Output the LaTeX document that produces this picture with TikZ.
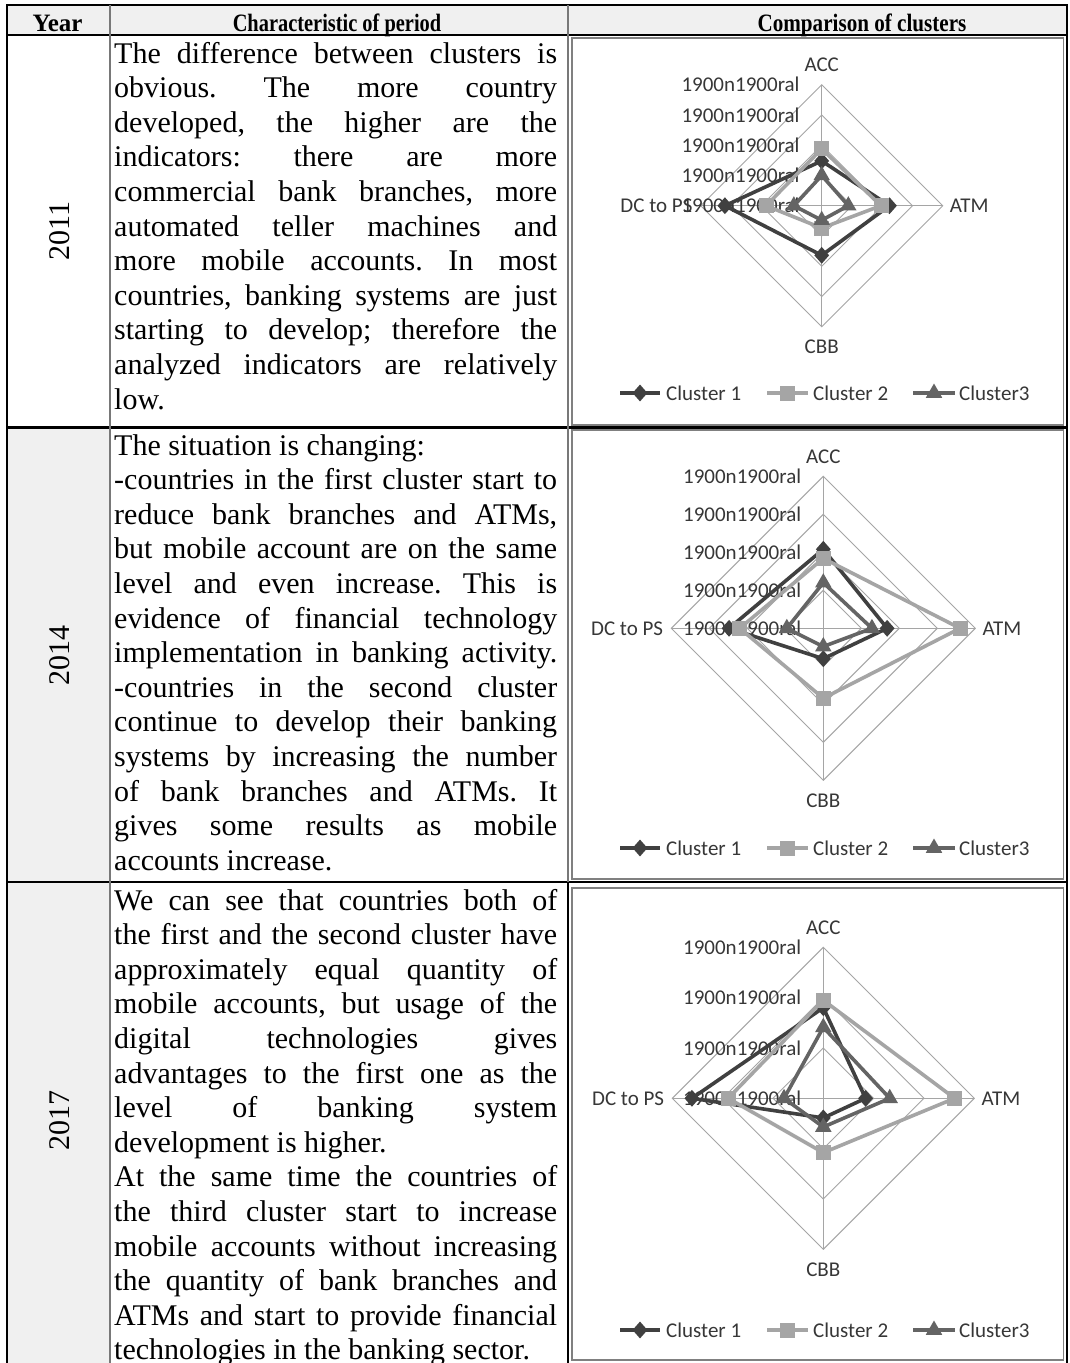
\documentclass[tikz,border=0pt]{standalone}
\usepackage{fontspec}
\setmainfont{Liberation Serif}
\newfontfamily\chartfont{Carlito}
\usepackage{graphicx}
\usetikzlibrary{shapes.geometric}

\definecolor{cA}{RGB}{64,64,64}
\definecolor{cB}{RGB}{165,165,165}
\definecolor{cC}{RGB}{100,100,100}
\definecolor{gridc}{RGB}{165,165,165}
\definecolor{lbl}{RGB}{55,55,55}
\definecolor{hdrfill}{RGB}{240,240,240}
\definecolor{framec}{RGB}{128,128,128}
\definecolor{sepc}{RGB}{120,120,120}

\newlength\tw \setlength\tw{443pt}
\newcommand\JL[1]{\hbox to\tw{#1}}
\newcommand\LL[1]{\hbox to\tw{#1\hfil}}
\newcommand\bodyfont{\fontsize{30}{34.6}\selectfont\frenchspacing}

\tikzset{
  radgrid/.style={draw=gridc, line width=0.9pt},
  sA/.style={draw=cA, line width=3.6pt, line join=round},
  sB/.style={draw=cB, line width=3.6pt, line join=round},
  sC/.style={draw=cC, line width=3.6pt, line join=round},
  mkA/.style={diamond, fill=cA, inner sep=0pt, minimum width=15pt, minimum height=17pt},
  mkB/.style={rectangle, fill=cB, inner sep=0pt, minimum size=15pt},
  mkC/.style={regular polygon, regular polygon sides=3, fill=cC, inner sep=0pt, minimum size=19pt},
  axl/.style={font=\chartfont\fontsize{21}{25}\selectfont, text=lbl, inner sep=0pt},
  leg/.style={axl, anchor=west},
  hdr/.style={font=\bfseries\fontsize{25}{28}\selectfont, inner sep=0pt, anchor=base},
  yr/.style={font=\fontsize{30}{34}\selectfont, inner sep=0pt, rotate=90},
  body/.style={inner sep=0pt, anchor=base west},
  rule/.style={draw=black, line width=2.2pt},
  frm/.style={draw=framec, line width=1.8pt},
}

% grid + labels:  #1 R, #2 rings, #3 prefix
\newcommand\radargrid[3]{%
  \foreach \k in {1,...,#2}{%
    \draw[radgrid] (0,{-\k*#1/#2}) -- ({\k*#1/#2},0) -- (0,{\k*#1/#2}) -- ({-\k*#1/#2},0) -- cycle;
  }
  \draw[radgrid] (0,-#1) -- (0,#1);
  \draw[radgrid] (-#1,0) -- (#1,0);
  \foreach \k in {0,...,#2}{%
    \node[axl, anchor=east] (#3t\k) at (-22,{-\k*#1/#2}) {1900n1900ral};
  }
  \node[axl] (#3acc) at (0,{-#1-20}) {ACC};
  \node[axl, anchor=west] (#3atm) at ({#1+7},0) {ATM};
  \node[axl] (#3cbb) at (0,{#1+20}) {CBB};
  \node[axl, anchor=east] (#3dc) at ({-#1-8},0) {DC to PS};
}
% #1 name, #2 line, #3 mark, #4 R, #5 acc, #6 atm, #7 cbb, #8 dc
\newcommand\series[8]{%
  \coordinate (#1n) at (0,{-#5*#4});
  \coordinate (#1e) at ({#6*#4},0);
  \coordinate (#1s) at (0,{#7*#4});
  \coordinate (#1w) at ({-#8*#4},0);
  \draw[#2] (#1n) -- (#1e) -- (#1s) -- (#1w) -- cycle;
  \node[#3] (#1mn) at (#1n) {};
  \node[#3] (#1me) at (#1e) {};
  \node[#3] (#1ms) at (#1s) {};
  \node[#3] (#1mw) at (#1w) {};
}
% legend: #1 y, #2 prefix
\newcommand\chartlegend[2]{%
  \coordinate (#2a1) at (620,#1); \coordinate (#2b1) at (660,#1);
  \draw[sA] (#2a1) -- (#2b1);
  \node[mkA] (#2m1) at (640,#1) {};
  \node[leg] (#2l1) at (666,#1) {Cluster 1};
  \coordinate (#2a2) at (767,#1); \coordinate (#2b2) at (808,#1);
  \draw[sB] (#2a2) -- (#2b2);
  \node[mkB] (#2m2) at (787,#1) {};
  \node[leg] (#2l2) at (813,#1) {Cluster 2};
  \coordinate (#2a3) at (913,#1); \coordinate (#2b3) at (955,#1);
  \draw[sC] (#2a3) -- (#2b3);
  \node[mkC] (#2m3) at (934,#1) {};
  \node[leg] (#2l3) at (959,#1) {Cluster3};
}

\begin{document}
\begin{tikzpicture}[x=1pt,y=-1pt]
\useasboundingbox[fill=white] (0,0) rectangle (1069,1363);

% backgrounds
\fill[hdrfill] (6,5) rectangle (1068,35);
\fill[hdrfill] (7,427) rectangle (110,1363);

% header
\node[hdr] (hy) at (57.5,31.5) {Year};
\node[hdr] (hc) at (337,31.5) {\scalebox{0.816}[1]{Characteristic of period}};
\node[hdr] (hk) at (862,31.5) {\scalebox{0.845}[1]{Comparison of clusters}};

% years
\node[yr] (y11) at (60,231) {2011};
\node[yr] (y14) at (60,655) {2014};
\node[yr] (y17) at (60,1120) {2017};

% texts
\node[body] (t11) at (114,63) {\vtop{\bodyfont\baselineskip=34.6pt\lineskiplimit=-100pt
\JL{The difference between clusters is}
\JL{obvious. The more country}
\JL{developed, the higher are the}
\JL{indicators: there are more}
\JL{commercial bank branches, more}
\JL{automated teller machines and}
\JL{more mobile accounts. In most}
\JL{countries, banking systems are just}
\JL{starting to develop; therefore the}
\JL{analyzed indicators are relatively}
\LL{low.}}};

\node[body] (t14) at (114,455) {\vtop{\bodyfont\baselineskip=34.6pt\lineskiplimit=-100pt
\LL{The situation is changing:}
\JL{-countries in the first cluster start to}
\JL{reduce bank branches and ATMs,}
\JL{but mobile account are on the same}
\JL{level and even increase. This is}
\JL{evidence of financial technology}
\JL{implementation in banking activity.}
\JL{-countries in the second cluster}
\JL{continue to develop their banking}
\JL{systems by increasing the number}
\JL{of bank branches and ATMs. It}
\JL{gives some results as mobile}
\LL{accounts increase.}}};

\node[body] (t17) at (114,910) {\vtop{\bodyfont\baselineskip=34.6pt\lineskiplimit=-100pt
\JL{We can see that countries both of}
\JL{the first and the second cluster have}
\JL{approximately equal quantity of}
\JL{mobile accounts, but usage of the}
\JL{digital technologies gives}
\JL{advantages to the first one as the}
\JL{level of banking system}
\LL{development is higher.}
\JL{At the same time the countries of}
\JL{the third cluster start to increase}
\JL{mobile accounts without increasing}
\JL{the quantity of bank branches and}
\JL{ATMs and start to provide financial}
\LL{technologies in the banking sector.}}};

% chart frames
\draw[frm] (572,38) rectangle (1063.5,425);
\draw[frm] (572,430) rectangle (1063.5,879);
\draw[frm] (572,888) rectangle (1063.5,1360);

% chart 2011
\begin{scope}[shift={(821.7,205.7)}]
  \radargrid{121}{4}{A}
  \series{A1}{sA}{mkA}{121}{0.37}{0.56}{0.41}{0.80}
  \series{A2}{sB}{mkB}{121}{0.47}{0.49}{0.185}{0.46}
  \series{A3}{sC}{mkC}{121}{0.25}{0.22}{0.12}{0.23}
\end{scope}
\chartlegend{393}{LA}

% chart 2014
\begin{scope}[shift={(823.3,628.3)}]
  \radargrid{152}{4}{B}
  \series{B1}{sA}{mkA}{152}{0.52}{0.42}{0.20}{0.62}
  \series{B2}{sB}{mkB}{152}{0.46}{0.90}{0.46}{0.55}
  \series{B3}{sC}{mkC}{152}{0.30}{0.32}{0.12}{0.24}
\end{scope}
\chartlegend{848}{LB}

% chart 2017
\begin{scope}[shift={(823.3,1098.3)}]
  \radargrid{151}{3}{C}
  \series{C1}{sA}{mkA}{151}{0.60}{0.28}{0.13}{0.87}
  \series{C2}{sB}{mkB}{151}{0.65}{0.87}{0.36}{0.63}
  \series{C3}{sC}{mkC}{151}{0.47}{0.44}{0.19}{0.26}
\end{scope}
\chartlegend{1330}{LC}

% table rules
\draw[line width=2.5pt] (6,5) -- (1068,5);
\draw[rule] (6,35) -- (1068,35);
\draw[rule] (6,427.5) -- (1068,427.5);
\draw[rule] (6,882) -- (1068,882);
\draw[line width=2pt] (6.5,4) -- (6.5,1363);
\draw[line width=2pt] (1067,4) -- (1067,1363);
\draw[sepc, line width=1.6pt] (110,5) -- (110,1363);
\draw[sepc, line width=1.6pt] (568,5) -- (568,882);
\draw[black, line width=2pt] (568,882) -- (568,1363);
\end{tikzpicture}
\end{document}
